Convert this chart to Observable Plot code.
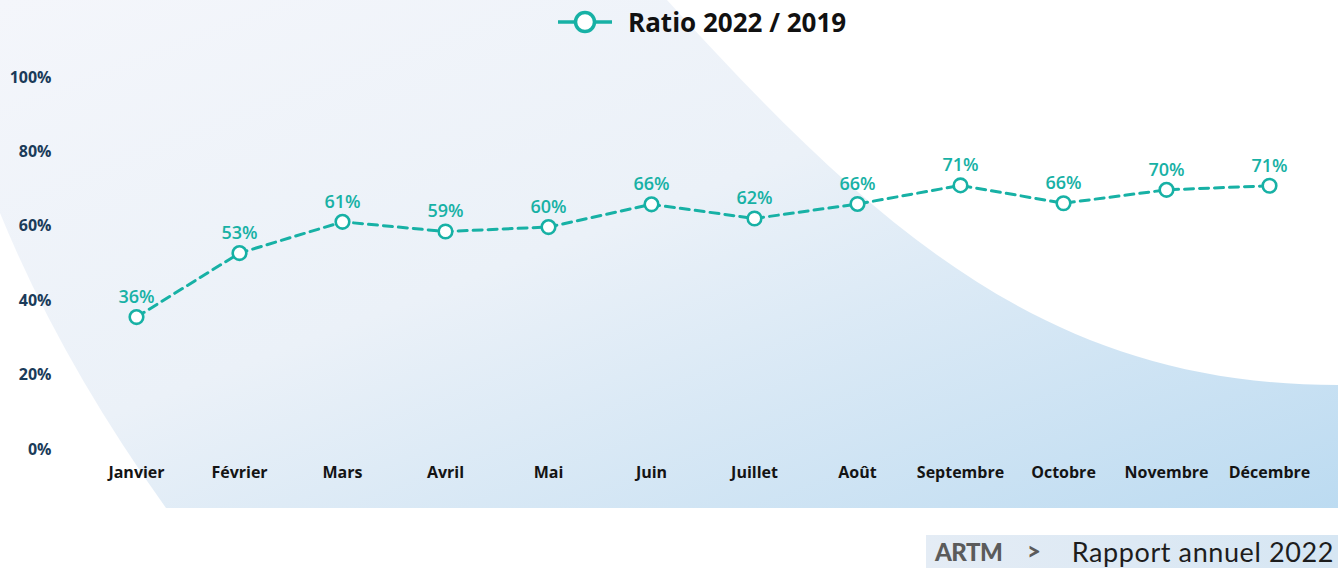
<!DOCTYPE html>
<html>
<head>
<meta charset="utf-8">
<script src="https://cdn.jsdelivr.net/npm/d3@7"></script>
<script src="https://cdn.jsdelivr.net/npm/@observablehq/plot@0.6"></script>
<style>
  html, body { margin: 0; padding: 0; background: #ffffff; }
  #wrap { position: relative; width: 1338px; height: 568px; overflow: hidden; font-family: "Open Sans", sans-serif; }
  #bg { position: absolute; left: 0; top: 0; }
  #chart { position: absolute; left: 0; top: 0; }
  #legend { position: absolute; left: 556px; top: 2px; height: 40px; display: flex; align-items: center; }
  #legend span { font-family: "Open Sans", sans-serif; font-weight: 700; font-size: 26px; color: #111; margin-left: 14px; }
  #footer { position: absolute; left: 926px; top: 535px; width: 412px; height: 33px; background: linear-gradient(90deg, #e4ecf5, #d6e6f3); }
  #footer .logo { position: absolute; left: 9px; top: 2px; font-family: "Lato", sans-serif; font-weight: 900; font-size: 24px; color: #5b5b5b; letter-spacing: -0.5px; }
  #footer .chev { position: absolute; left: 101px; top: 1px; font-family: "Lato", sans-serif; font-weight: 900; font-size: 24px; color: #5b5b5b; }
  #footer .txt { position: absolute; right: 4px; top: 0px; font-family: "Lato", sans-serif; font-size: 27px; color: #1d1d1d; letter-spacing: 0.6px; }
</style>
</head>
<body>
<div id="wrap">
  <svg id="bg" width="1338" height="568">
    <defs>
      <linearGradient id="g" x1="0" y1="0" x2="1" y2="1">
        <stop offset="0" stop-color="#f4f6fb"/>
        <stop offset="0.45" stop-color="#ebf1f8"/>
        <stop offset="1" stop-color="#bcdbf1"/>
      </linearGradient>
    </defs>
    <path d="M0,0 L667,0 C880,234 1050,385 1338,385 L1338,508 L166,508 Q60,360 0,213 Z" fill="url(#g)"/>
  </svg>
  <div id="chart"></div>
  <div id="legend">
    <svg width="58" height="30"><line x1="2" y1="15" x2="56" y2="15" stroke="#17b1a5" stroke-width="3.5"/><circle cx="29" cy="15" r="9.5" fill="#ffffff" stroke="#17b1a5" stroke-width="3.5"/></svg>
    <span>Ratio 2022 / 2019</span>
  </div>
  <div id="footer"><span class="logo">ARTM</span><span class="chev">&gt;</span><span class="txt">Rapport annuel 2022</span></div>
</div>
<script>
const months = ["Janvier","Février","Mars","Avril","Mai","Juin","Juillet","Août","Septembre","Octobre","Novembre","Décembre"];
const ratio = [35.6, 52.8, 61.2, 58.6, 59.8, 65.9, 62.1, 66.0, 71.0, 66.2, 69.8, 70.9];
const yTicks = [0, 20, 40, 60, 80, 100];

const teal = "#17b1a5";
const data = months.map((m, i) => ({month: m, value: ratio[i]}));

const chart = Plot.plot({
  width: 1338,
  height: 508,
  marginTop: 77,
  marginBottom: 59,
  marginLeft: 82,
  marginRight: 16,
  style: {background: "transparent", fontFamily: "Open Sans, sans-serif", overflow: "visible"},
  x: {type: "point", domain: months, padding: 0.5},
  y: {domain: [0, 100]},
  marks: [
    Plot.axisY({ticks: yTicks, tickFormat: d => d + "%", tickSize: 0, tickPadding: 31, fontSize: 16, fontWeight: 700, color: "#1b3b59", label: null}),
    Plot.axisX({tickSize: 0, tickPadding: 17, fontSize: 16, fontWeight: 700, color: "#141414", label: null}),
    Plot.line(data, {x: "month", y: "value", stroke: teal, strokeWidth: 3, strokeDasharray: "9,6"}),
    Plot.dot(data, {x: "month", y: "value", r: 6.8, fill: "#ffffff", stroke: teal, strokeWidth: 2.6}),
    Plot.text(data, {x: "month", y: "value", text: d => Math.round(d.value) + "%", dy: -20, fill: teal, fontSize: 18, fontWeight: 600})
  ]
});
document.getElementById("chart").appendChild(chart);
</script>
</body>
</html>
